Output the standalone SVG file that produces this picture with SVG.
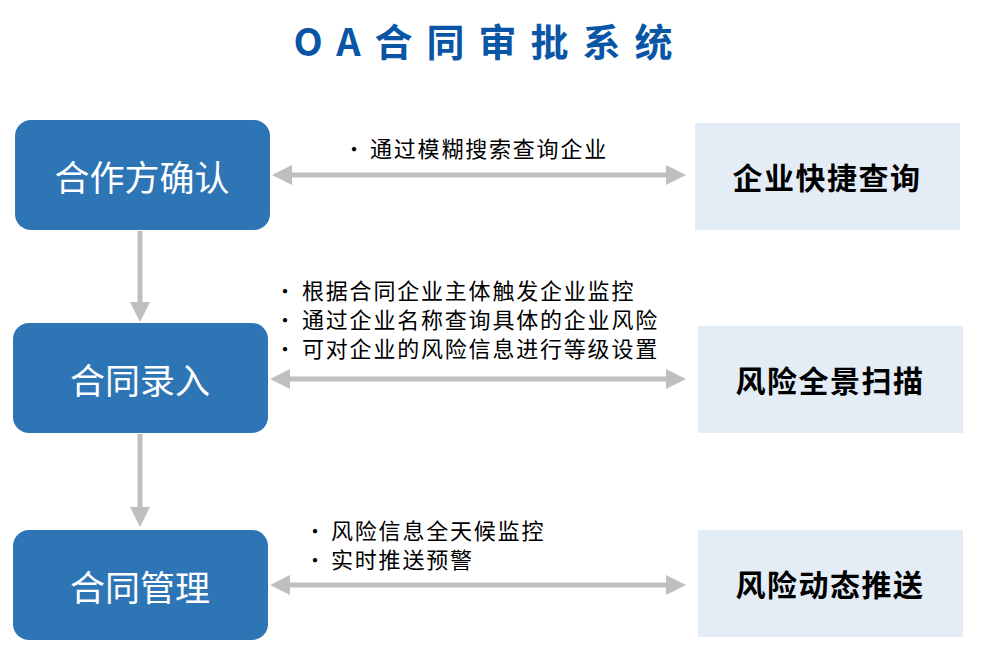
<svg xmlns="http://www.w3.org/2000/svg" width="981" height="662" viewBox="0 0 981 662">
<style>
.l{fill:#2e75b6}
.r{fill:#e4ecf6}
.lt{fill:#fff;font-family:"Noto Sans CJK SC",sans-serif;font-size:35px;text-anchor:middle;dominant-baseline:central}
.rt{fill:#000;font-family:"Noto Sans CJK SC",sans-serif;font-size:30px;font-weight:bold;letter-spacing:1.5px;text-anchor:middle;dominant-baseline:central}
.b{fill:#000;font-family:"Noto Sans CJK SC",sans-serif;font-size:22px;letter-spacing:1.8px}
.d{fill:#000;font-family:"Noto Sans CJK SC",sans-serif;font-size:20px}
.c{stroke:#bfbfbf;stroke-width:5;fill:none}
</style>
<defs>
<marker id="a" markerWidth="4" markerHeight="4" refX="2" refY="2" orient="auto-start-reverse" markerUnits="strokeWidth"><path d="M0,0L4,2L0,4Z" fill="#bfbfbf"/></marker>
</defs>
<text x="490" y="56" text-anchor="middle" font-family="'Noto Sans CJK SC',sans-serif" font-size="38" font-weight="bold" fill="#0a56a6" letter-spacing="14">OA合同审批系统</text>
<g id="n1"><rect class="l" x="15" y="120" width="255" height="110" rx="16"/><text class="lt" x="142" y="175">合作方确认</text></g>
<g id="n2"><rect class="l" x="13" y="323" width="255" height="110" rx="16"/><text class="lt" x="140" y="378">合同录入</text></g>
<g id="n3"><rect class="l" x="13" y="530" width="255" height="110" rx="16"/><text class="lt" x="140" y="585">合同管理</text></g>
<g id="r1"><rect class="r" x="695" y="123" width="265" height="107"/><text class="rt" x="827" y="176">企业快捷查询</text></g>
<g id="r2"><rect class="r" x="698" y="326" width="265" height="107"/><text class="rt" x="830" y="379">风险全景扫描</text></g>
<g id="r3"><rect class="r" x="698" y="530" width="265" height="107"/><text class="rt" x="830" y="583">风险动态推送</text></g>
<g id="connectors">
<line class="c" x1="282" y1="175" x2="676" y2="175" marker-start="url(#a)" marker-end="url(#a)"/>
<line class="c" x1="280" y1="379" x2="676" y2="379" marker-start="url(#a)" marker-end="url(#a)"/>
<line class="c" x1="280" y1="585" x2="676" y2="585" marker-start="url(#a)" marker-end="url(#a)"/>
<line class="c" x1="140" y1="231" x2="140" y2="312" marker-end="url(#a)"/>
<line class="c" x1="140" y1="434" x2="140" y2="517" marker-end="url(#a)"/>
</g>
<g id="labels">
<text class="d" x="344" y="157">•</text><text class="b" x="370" y="157">通过模糊搜索查询企业</text>
<text class="d" x="275" y="299">•</text><text class="b" x="302" y="299">根据合同企业主体触发企业监控</text>
<text class="d" x="275" y="328">•</text><text class="b" x="302" y="328">通过企业名称查询具体的企业风险</text>
<text class="d" x="275" y="357">•</text><text class="b" x="302" y="357">可对企业的风险信息进行等级设置</text>
<text class="d" x="305" y="539">•</text><text class="b" x="331" y="539">风险信息全天候监控</text>
<text class="d" x="305" y="568">•</text><text class="b" x="331" y="568">实时推送预警</text>
</g>
</svg>
